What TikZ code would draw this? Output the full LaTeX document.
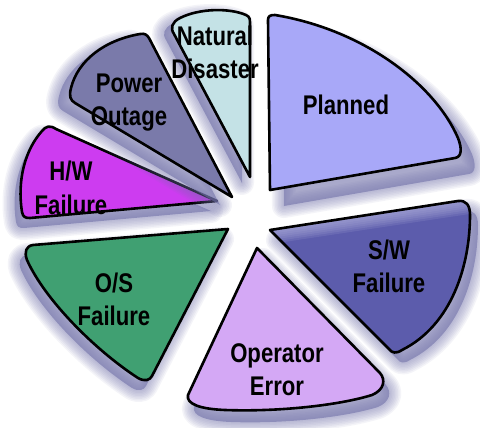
\documentclass[tikz,border=0pt]{standalone}
\usepackage{fontspec}
\newfontfamily\lab[FakeStretch=0.82]{Liberation Sans}

\definecolor{shadowc}{RGB}{112,112,168}
\definecolor{plannedc}{RGB}{168,168,248}
\definecolor{naturalc}{RGB}{196,226,230}
\definecolor{powerc}{RGB}{122,122,170}
\definecolor{hwc}{RGB}{205,60,240}
\definecolor{osc}{RGB}{64,160,114}
\definecolor{operc}{RGB}{212,168,245}
\definecolor{swc}{RGB}{92,92,172}
\definecolor{swlight}{RGB}{175,175,220}

% wedge outlines, in pixel-like units (y grows downwards)
\def\pathPlanned{(268,20) -- (270,190) -- (455,158) .. controls (462,157) and (462,148) .. (458,138)
  .. controls (435,85) and (365,30) .. (275,15) .. controls (270,15) and (268,16) .. (268,20) -- cycle}
\def\pathNatural{(250,177) -- (174,34) .. controls (170,28) and (172,22) .. (180,18)
  .. controls (200,8) and (230,8) .. (246,15) .. controls (250,17) and (250,19) .. (250,24) -- cycle}
\def\pathPower{(232,197) -- (75,103) .. controls (70,100) and (69,96) .. (71,88)
  .. controls (78,60) and (105,40) .. (140,34) .. controls (145,33) and (147,35) .. (149,38) -- cycle}
\def\pathHW{(217,201) -- (56,129) .. controls (50,125) and (46,126) .. (42,131)
  .. controls (25,150) and (17,180) .. (22,212) .. controls (23,217) and (25,218) .. (30,218) -- cycle}
\def\pathOS{(228,229) -- (33,245) .. controls (26,246) and (24,252) .. (27,260)
  .. controls (45,300) and (95,350) .. (138,378) .. controls (145,382) and (150,380) .. (152,376) -- cycle}
\def\pathOper{(257,248) -- (380,373) .. controls (386,380) and (384,390) .. (372,395)
  .. controls (340,405) and (280,412) .. (225,410) .. controls (200,409) and (186,404) .. (188,395) -- cycle}
\def\pathSW{(270,230) -- (458,201) .. controls (466,200) and (470,205) .. (470,215)
  .. controls (470,265) and (452,325) .. (402,350) .. controls (396,354) and (392,353) .. (389,349) -- cycle}

% soft shadow: a filled copy plus widening translucent strokes
\newcommand\softshadow[3]{%
  \begin{scope}[shift={(#1,#2)}]
    \fill[shadowc, opacity=0.6] #3;
    \foreach \w in {3,6,...,24}{\draw[shadowc, opacity=0.08, line width=\w, line join=round] #3;}
  \end{scope}}

\tikzset{
  wedge/.style={draw=black, line width=2.6, line join=round},
  lbl/.style={font=\lab\bfseries\fontsize{27}{33}\selectfont, align=center, inner sep=0pt, anchor=base}
}

\begin{document}
\begin{tikzpicture}[x=1pt, y=-1pt]
\useasboundingbox (0,0) rectangle (480,428);

\softshadow{-6}{10}{\pathOS}
\path[wedge, fill=osc] \pathOS;

\softshadow{6}{12}{\pathOper}
\path[wedge, fill=operc] \pathOper;

\softshadow{8}{10}{\pathSW}
\fill[swc] \pathSW;
\begin{scope}
  \clip \pathSW;
  \foreach \w in {4,8,...,28}{\draw[swlight, opacity=0.16, line width=\w] (260,231.5) -- (475,199);}
\end{scope}
\draw[wedge] \pathSW;

\softshadow{14}{16}{\pathPlanned}
\path[wedge, fill=plannedc] \pathPlanned;

\softshadow{-6}{10}{\pathHW}
\path[wedge, fill=hwc] \pathHW;

\softshadow{-12}{8}{\pathPower}
\path[wedge, fill=powerc] \pathPower;

\softshadow{-8}{6}{\pathNatural}
\path[wedge, fill=naturalc] \pathNatural;

% multi-line labels sit on the baseline of their last line
\node[lbl] (natural) at (215,79) {Natural\\Disaster};
\node[lbl] (power) at (129,126) {Power\\Outage};
\node[lbl] (hw) at (71,214) {H/W\\Failure};
\node[lbl] (planned) at (346,114) {Planned};
\node[lbl] (sw) at (389,292) {S/W\\Failure};
\node[lbl] (os) at (114,325) {O/S\\Failure};
\node[lbl] (oper) at (277,395) {Operator\\Error};
\end{tikzpicture}
\end{document}
